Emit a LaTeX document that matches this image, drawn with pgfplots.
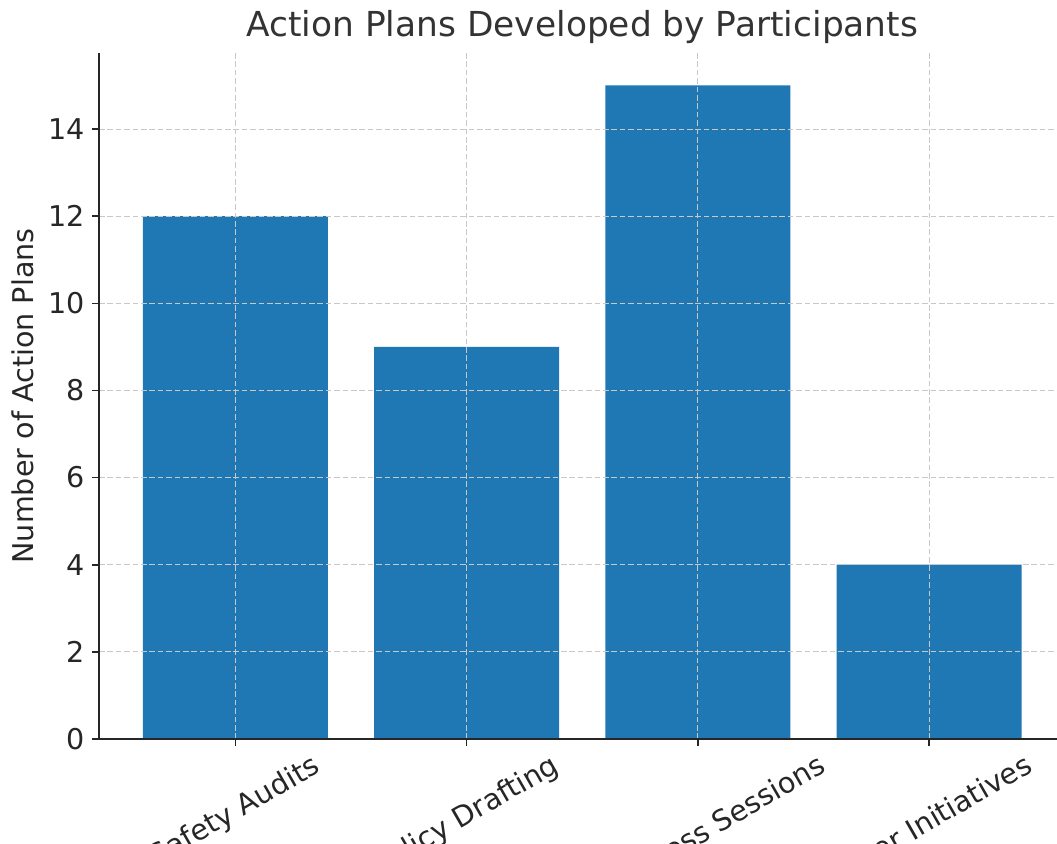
\documentclass[border=0pt]{standalone}
\usepackage{pgfplots}
\pgfplotsset{compat=1.18}
\usepackage{fontspec}
\setmainfont{DejaVu Sans}
\usepackage{graphicx}

\definecolor{barblue}{HTML}{1F77B4}
\definecolor{gridgray}{HTML}{C8C8C8}
\definecolor{spine}{HTML}{262626}
\definecolor{labeltext}{HTML}{262626}
\definecolor{titletext}{HTML}{333333}

\newcommand{\xlab}[1]{\rotatebox{30}{#1}}

\begin{document}
\begin{tikzpicture}
    \begin{axis}[
        at = {(0,0)},
        anchor = south west,
        scale only axis,
        width = 483.3pt,
        height = 343.1pt,
        xmin = -0.59, xmax = 3.59,
        ymin = 0, ymax = 15.75,
        enlargelimits = false,
        ybar,
        bar width = 0.8,
        xtick = { 0,...,3 },
        xticklabels = {
            \xlab{Safety Audits},
            \xlab{Policy Drafting},
            \xlab{Awareness Sessions},
            \xlab{Other Initiatives}
        },
        ytick = { 0,2,...,14 },
        axis x line* = bottom,
        axis y line* = left,
        axis line style = { spine, line width = 1pt, - },
        tick align = outside,
        major tick length = 3.5pt,
        tick style = { spine, line width = 0.8pt },
        grid = major,
        grid style = { gridgray, line width = 0.5pt, dash pattern = on 2.8pt off 1.4pt },
        axis on top,
        /pgf/number format/assume math mode = true,
        ticklabel style = { font = \fontsize{14.3}{17}\selectfont, text = labeltext },
        xticklabel style = { anchor = north, inner sep = 3pt },
        ylabel = { Number of Action Plans },
        ylabel style = {
            at = { (axis description cs:-0.0677,0.5) },
            anchor = base,
            font = \fontsize{14.3}{17}\selectfont,
            text = labeltext
        },
        title = { Action Plans Developed by Participants },
        title style = {
            at = { (axis description cs:0.5,1) },
            anchor = base,
            yshift = 1.9pt,
            font = \fontsize{17.2}{20}\selectfont,
            text = titletext
        }
    ]

        \addplot[ fill = barblue, draw = none ]
        coordinates { (0,12) (1,9) (2,15) (3,4) };

    \end{axis}

    % crop like the reference: labels cut at bottom, right edge trimmed
    \pgfresetboundingbox
    \path[use as bounding box] (-49.5pt,-52.5pt) rectangle (479pt,369.5pt);
\end{tikzpicture}
\end{document}
